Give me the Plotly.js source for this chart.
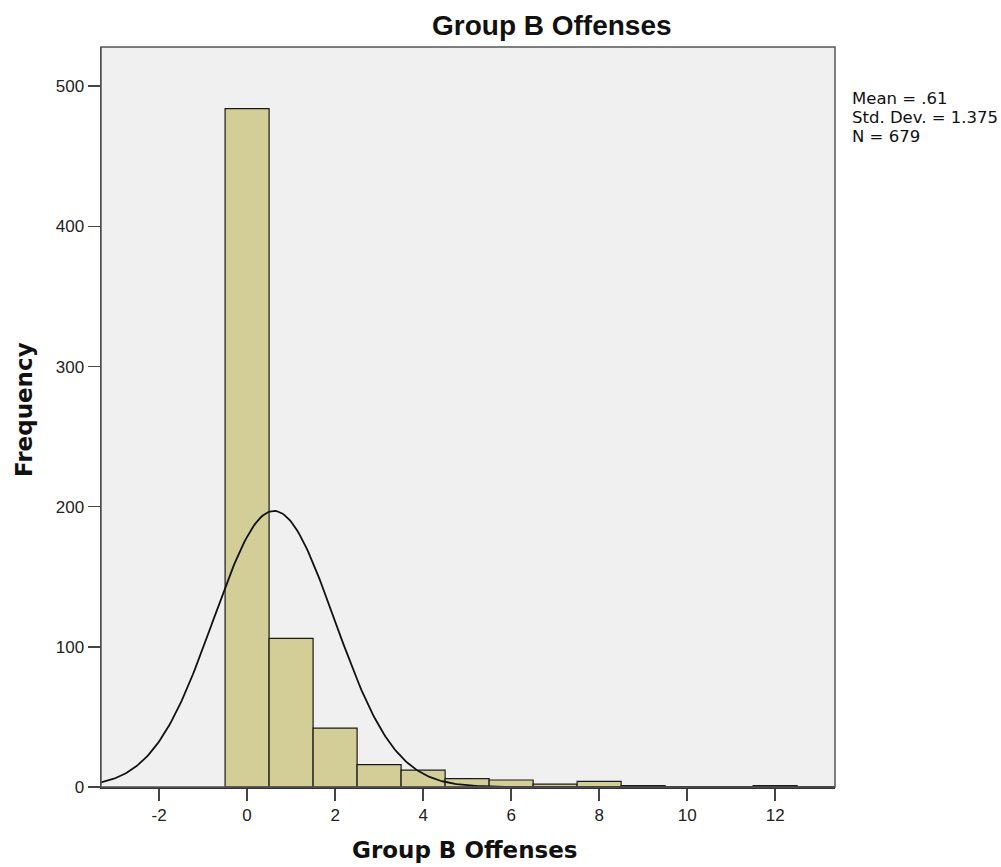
<!DOCTYPE html>
<html><head><meta charset="utf-8">
<script src="https://cdn.plot.ly/plotly-3.0.1.min.js"></script>
<style>body{margin:0;background:#fff}#c{width:1001px;height:867px}</style>
</head><body><div id="c"></div>
<script>
const binCenters = [0,1,2,3,4,5,6,7,8,9,10,11,12];
const frequencies = [484,106,42,16,12,6,5,2,4,1,0,0,1];
const statMean = 0.61;
const statSD = 1.375;
const statN = 679;
const statLines = ['Mean = .61', 'Std. Dev. = 1.375', 'N = 679'];
const xTicks = [-2,0,2,4,6,8,10,12];
const xTickText = ['-2','0','2','4','6','8','10','12'];
const yTicks = [0,100,200,300,400,500];

const L = 101, R = 835, T = 47, B = 787;
const px = v => (v - L) / (R - L);
const py = v => (B - v) / (B - T);

const cx = [], cy = [];
for (let i = 0; i <= 400; i++) {
  const x = -3.32 + i * (13.36 + 3.32) / 400;
  cx.push(x);
  cy.push(statN / (statSD * Math.sqrt(2 * Math.PI)) * Math.exp(-0.5 * Math.pow((x - statMean) / statSD, 2)));
}

const data = [
  {type:'bar', x:binCenters, y:frequencies, width:1,
   marker:{color:'#d3ce97', line:{color:'#1a1a1a', width:1.2}}},
  {type:'scatter', mode:'lines', x:cx, y:cy, line:{color:'#111', width:1.8}}
];
const anns = [
  {xref:'paper', yref:'paper', x:px(552), y:py(26), xanchor:'center', yanchor:'middle', showarrow:false,
   text:'<b>Group B Offenses</b>', font:{family:'Arial, Liberation Sans', size:28, color:'#111'}},
  {xref:'paper', yref:'paper', x:px(465), y:py(850), xanchor:'center', yanchor:'middle', showarrow:false,
   text:'<b>Group B Offenses</b>', font:{family:'DejaVu Sans', size:23, color:'#111'}},
  {xref:'paper', yref:'paper', x:px(24), y:py(410), xanchor:'center', yanchor:'middle', showarrow:false, textangle:-90,
   text:'<b>Frequency</b>', font:{family:'DejaVu Sans', size:23, color:'#111'}}
];
const lineY = [99, 117, 136];
statLines.forEach((t, i) => anns.push({xref:'paper', yref:'paper', x:px(850), y:py(lineY[i]), xanchor:'left', yanchor:'middle',
  showarrow:false, text:t, font:{family:'DejaVu Sans', size:16.5, color:'#111'}}));

const layout = {
  width:1001, height:867, showlegend:false,
  paper_bgcolor:'#fff', plot_bgcolor:'#f0f0f0',
  margin:{l:L, r:1001-R, t:T, b:867-B},
  font:{family:'Arial, Liberation Sans, sans-serif', color:'#222', size:17},
  xaxis:{range:[-3.32,13.36], tickvals:xTicks, ticktext:xTickText, ticks:'outside', ticklen:12, tickcolor:'#444', tickwidth:1.5,
    showgrid:false, zeroline:false, showline:true, linecolor:'#333', linewidth:1.5, tickfont:{size:17}},
  yaxis:{range:[0,528], tickvals:yTicks, ticks:'outside', ticklen:12, tickcolor:'#444', tickwidth:1.5,
    showgrid:false, zeroline:false, showline:true, linecolor:'#333', linewidth:1.5, tickfont:{size:17}},
  shapes:[{type:'rect', xref:'paper', yref:'paper', x0:0, x1:1, y0:0, y1:1, line:{color:'#555', width:1.5}}],
  annotations:anns
};
Plotly.newPlot('c', data, layout, {displayModeBar:false, staticPlot:true});
</script></body></html>
